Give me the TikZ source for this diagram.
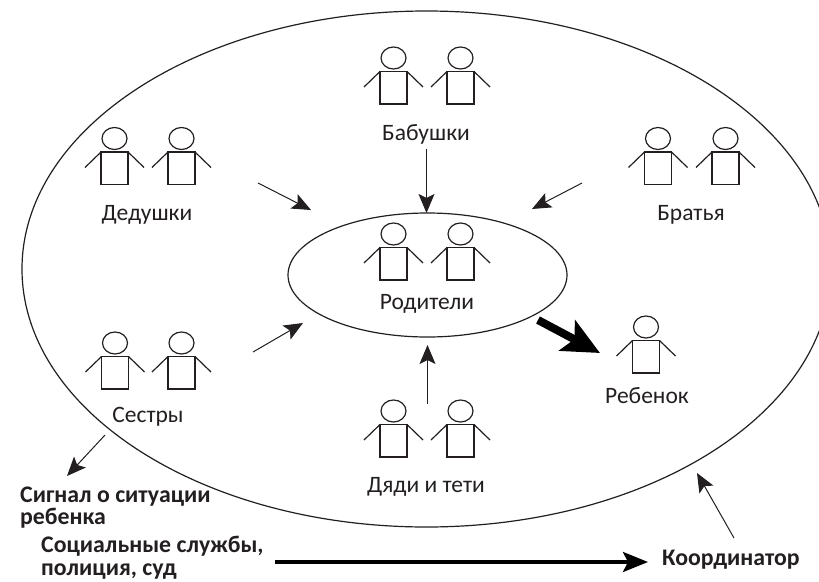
\documentclass[tikz,border=0pt]{standalone}
\usepackage{fontspec}
\setmainfont{Carlito}
\usetikzlibrary{arrows.meta,shapes.geometric}
\definecolor{ink}{HTML}{231F20}
\tikzset{
  x=1pt,y=-1pt,
  ring/.style={draw=ink,ellipse,line width=1.2pt,inner sep=0pt},
  lbl/.style={text=ink,font=\fontsize{23.5}{26}\selectfont,inner sep=0pt},
  blbl/.style={text=ink,font=\bfseries\fontsize{23.8}{22.5}\selectfont,inner sep=0pt,align=left},
  conn/.style={draw=ink,line width=1pt,-{Stealth[length=19pt,width=16pt,inset=4pt]}},
  person/.pic={
    \draw[ink,line width=1.2pt] (0,0) ellipse [x radius=12.5,y radius=11];
    \draw[ink,line width=1.2pt] (-13.5,13.5) rectangle (13.5,46);
    \draw[ink,line width=1.2pt] (-13.5,13.5) -- (-29.5,29);
    \draw[ink,line width=1.2pt] (13.5,13.5) -- (29.5,29);
  }
}
\begin{document}
\begin{tikzpicture}
\useasboundingbox (0,0) rectangle (819,581);
\clip (0,0) rectangle (819,581);
\node[ring,minimum width=809pt,minimum height=516pt] (outer) at (426.5,269) {};
\node[ring,minimum width=279pt,minimum height=124pt] (inner) at (427.5,275) {};
\foreach \px/\py in {393.5/58,460.5/58,114.5/138.5,181.5/138.5,658/138.5,725.5/138.5,393.5/234,460.5/234,115/343,181.5/343,393.5/411,460.5/411,646/327}
  \pic at (\px,\py) {person};
\node[lbl] (babushki) at (426,134) {Бабушки};
\node[lbl] (dedushki) at (147,215) {Дедушки};
\node[lbl] (bratya) at (691,215) {Братья};
\node[lbl] (roditeli) at (427,304) {Родители};
\node[lbl] (sestry) at (148,417) {Сестры};
\node[lbl] (dyadi) at (426,487) {Дяди и тети};
\node[lbl] (rebenok) at (647,396) {Ребенок};
\node[blbl,anchor=north west] (signal) at (20,486.5) {Сигнал о ситуации\\ребенка};
\node[blbl,anchor=north west] (sluzhby) at (41,536) {Социальные службы,\\полиция, суд};
\node[blbl,anchor=west] (koord) at (662,560) {Координатор};
\coordinate (a1s) at (426.5,149); \coordinate (a1e) at (426.5,213);
\coordinate (a2s) at (258,183); \coordinate (a2e) at (311,210);
\coordinate (a3s) at (582,183); \coordinate (a3e) at (532,209);
\coordinate (a4s) at (253,352); \coordinate (a4e) at (303,323);
\coordinate (a5s) at (427.5,404); \coordinate (a5e) at (427.5,345);
\coordinate (a6s) at (105,435); \coordinate (a6e) at (67,476);
\coordinate (a7s) at (734,538); \coordinate (a7e) at (697,473);
\coordinate (a8s) at (538,320); \coordinate (a8e) at (600,353);
\coordinate (a9s) at (275,562); \coordinate (a9e) at (648,562);
\foreach \s/\e in {a1s/a1e,a2s/a2e,a3s/a3e,a4s/a4e,a5s/a5e,a6s/a6e,a7s/a7e}
  \draw[conn] (\s) -- (\e);
\draw[draw=black,line width=8pt,-{Stealth[length=37pt,width=34pt,inset=8pt]}] (a8s) -- (a8e);
\draw[draw=black,line width=3.5pt,-{Stealth[length=25pt,width=20pt,inset=5pt]}] (a9s) -- (a9e);
\end{tikzpicture}
\end{document}
